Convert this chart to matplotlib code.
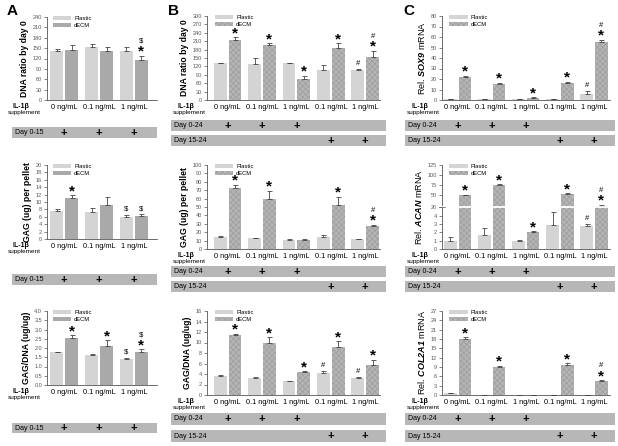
import numpy as np
import matplotlib.pyplot as plt
from matplotlib.patches import Patch

plt.rcParams['font.family'] = ['Liberation Sans', 'DejaVu Sans']
plt.rcParams['mathtext.fontset'] = 'custom'
plt.rcParams['mathtext.rm'] = 'Liberation Sans'
plt.rcParams['mathtext.it'] = 'Liberation Sans:italic'
plt.rcParams['mathtext.bf'] = 'Liberation Sans:bold'
plt.rcParams['mathtext.bfit'] = 'Liberation Sans:italic:bold'
plt.rcParams['hatch.linewidth'] = 0.35

W, H = 618, 446

# --- data -------------------------------------------------------------
doses_a = ['0 ng/mL', '0.1 ng/mL', '1 ng/mL']
doses_bc = ['0 ng/mL', '0.1 ng/mL', '1 ng/mL', '0.1 ng/mL', '1 ng/mL']
day_0_15 = [1, 1, 1]
day_0_24 = [1, 1, 1, 0, 0]
day_15_24 = [0, 0, 0, 1, 1]

# panel A
dna_a_plastic = [142, 153, 141]
dna_a_plastic_err = [5, 8, 11]
dna_a_decm = [144, 141, 115]
dna_a_decm_err = [14, 13, 12]
dna_a_plastic_marks = ['', '', '']
dna_a_decm_marks = ['', '', '$*']

gag_a_plastic = [7.5, 7.3, 6.0]
gag_a_plastic_err = [0.6, 1.2, 0.5]
gag_a_decm = [11.0, 9.1, 6.2]
gag_a_decm_err = [0.8, 2.2, 0.5]
gag_a_plastic_marks = ['', '', '$']
gag_a_decm_marks = ['*', '', '$']

ratio_a_plastic = [1.78, 1.60, 1.38]
ratio_a_plastic_err = [0.02, 0.1, 0.1]
ratio_a_decm = [2.53, 2.13, 1.81]
ratio_a_decm_err = [0.16, 0.28, 0.11]
ratio_a_plastic_marks = ['', '', '$']
ratio_a_decm_marks = ['*', '*', '$*']

# panel B
dna_b_plastic = [131, 129, 131, 106, 108]
dna_b_plastic_err = [1, 20, 2, 19, 4]
dna_b_decm = [213, 195, 76, 184, 152]
dna_b_decm_err = [11, 7, 10, 18, 23]
dna_b_plastic_marks = ['', '', '', '', '#']
dna_b_decm_marks = ['*', '*', '*', '*', '#*']

gag_b_plastic = [14.7, 12.7, 11.0, 13.9, 11.5]
gag_b_plastic_err = [0.8, 0.4, 0.9, 2.8, 0.4]
gag_b_decm = [73, 59.5, 11.0, 52, 27.8]
gag_b_decm_err = [3, 9.5, 0.9, 10, 0.8]
gag_b_plastic_marks = ['', '', '', '', '']
gag_b_decm_marks = ['*', '*', '', '*', '#*']

ratio_b_plastic = [3.7, 3.2, 2.6, 4.25, 3.3]
ratio_b_plastic_err = [0.1, 0.3, 0.1, 0.25, 0.1]
ratio_b_decm = [11.4, 10.0, 4.3, 9.1, 5.7]
ratio_b_decm_err = [0.2, 1.0, 0.2, 1.1, 1.0]
ratio_b_plastic_marks = ['', '', '', '#', '#']
ratio_b_decm_marks = ['*', '*', '*', '*', '*']

# panel C
sox9_plastic = [1.0, 1.0, 0.5, 1.0, 6.0]
sox9_plastic_err = [0.2, 0.2, 0.1, 0.2, 2.9]
sox9_decm = [21.6, 15.2, 2.2, 15.9, 55.2]
sox9_decm_err = [1.3, 1.0, 0.3, 1.1, 1.8]
sox9_plastic_marks = ['', '', '', '', '#']
sox9_decm_marks = ['*', '*', '*', '*', '#*']

acan_plastic = [1.0, 1.7, 0.95, 2.85, 2.7]
acan_plastic_err = [0.4, 0.8, 0.15, 1.65, 0.3]
acan_decm = [50, 75, 2.0, 54, 24]
acan_decm_err = [1.5, 2, 0.1, 1, 2]
acan_plastic_marks = ['', '', '', '', '#']
acan_decm_marks = ['*', '*', '*', '*', '#*']

col2a1_plastic = [0.5, 0.1, 0.05, 0.1, 0.05]
col2a1_plastic_err = [0.15, 0.05, 0.0, 0.05, 0.0]
col2a1_decm = [17.9, 9.1, 0.05, 9.5, 4.5]
col2a1_decm_err = [0.6, 0.2, 0.0, 0.7, 0.2]
col2a1_plastic_marks = ['', '', '', '', '']
col2a1_decm_marks = ['*', '*', '', '*', '#*']

# --- layout (pixels) --------------------------------------------------
C_PLASTIC = '#d4d4d4'
C_DECM = '#a9a9a9'
C_DECM_H = '#b4b4b4'
C_HATCH = '#969696'
C_BOX = '#b7b7b7'
C_AX = '#555555'

fig = plt.figure(figsize=(W / 100, H / 100), dpi=100)


def rect(x0, y0, x1, y1):
    return [x0 / W, 1 - y1 / H, (x1 - x0) / W, (y1 - y0) / H]


def put_marks(ax, x, top, code):
    dy = 1.5
    if '*' in code:
        ax.annotate('*', (x, top), xytext=(0, dy - 3.5), textcoords='offset points',
                    ha='center', va='bottom', fontsize=11, fontweight='bold')
        dy += 6.5
    sym = code.replace('*', '')
    if sym:
        s = r'\$' if sym == '$' else sym
        ax.annotate(s, (x, top), xytext=(0, dy), textcoords='offset points',
                    ha='center', va='bottom', fontsize=5.5)


def bar_panel(px, ylab, yticks, ylim, xlim, doses, plastic, p_err, decm, d_err,
              p_marks, d_marks, hatched, il_x, fmt=None, scale=None):
    ax = fig.add_axes(rect(*px))
    if scale is not None:
        ax.set_yscale('function', functions=scale)
    x = np.arange(len(doses))
    off, w = 0.215, 0.37
    ax.bar(x - off, plastic, w, color=C_PLASTIC, linewidth=0, zorder=2)
    ax.errorbar(x - off, plastic, yerr=[np.zeros(len(x)), p_err], fmt='none',
                ecolor='#444444', elinewidth=0.6, capsize=1.8, capthick=0.6, zorder=3)
    if hatched:
        ax.bar(x + off, decm, w, color=C_DECM_H, edgecolor=C_HATCH, linewidth=0,
               hatch='xxxxxx', zorder=2)
    else:
        ax.bar(x + off, decm, w, color=C_DECM, linewidth=0, zorder=2)
    ax.errorbar(x + off, decm, yerr=[np.zeros(len(x)), d_err], fmt='none',
                ecolor='#444444', elinewidth=0.6, capsize=1.8, capthick=0.6, zorder=3)
    for i in range(len(x)):
        put_marks(ax, x[i] - off, plastic[i] + p_err[i], p_marks[i])
        put_marks(ax, x[i] + off, decm[i] + d_err[i], d_marks[i])
    ax.set_xlim(*xlim)
    ax.set_ylim(*ylim)
    ax.set_yticks(yticks)
    if fmt:
        ax.set_yticklabels([fmt.format(t) for t in yticks])
    ax.set_xticks(x)
    ax.set_xticklabels(doses, fontsize=5.3)
    ax.tick_params(axis='x', length=0, pad=3)
    ax.tick_params(axis='y', labelsize=4, length=2, width=0.5, pad=1.5, colors=C_AX)
    for s in ['top', 'right']:
        ax.spines[s].set_visible(False)
    for s in ['left', 'bottom']:
        ax.spines[s].set_linewidth(0.6)
        ax.spines[s].set_color(C_AX)
    if isinstance(ylab, tuple):
        ax.set_ylabel(ylab[0], fontsize=6.5, labelpad=2.5)
    else:
        ax.set_ylabel(ylab, fontsize=6.2, fontweight='bold', labelpad=2.5)
    handles = [Patch(facecolor=C_PLASTIC, linewidth=0, label='Plastic'),
               Patch(facecolor=C_DECM_H if hatched else C_DECM, edgecolor=C_HATCH,
                     linewidth=0, hatch='xxxxxx' if hatched else None, label='dECM')]
    ax.legend(handles=handles, loc='upper left', bbox_to_anchor=(0.03, 1.04),
              frameon=False, fontsize=4.2, handlelength=3.2, handleheight=0.7,
              labelspacing=0.25, borderaxespad=0, handletextpad=0.5)
    fig.text(il_x / W, 1 - (px[3] + 3) / H, 'IL-1β', ha='center', va='top',
             fontsize=5, fontweight='bold')
    fig.text((il_x + 3) / W, 1 - (px[3] + 10) / H, 'supplement', ha='center',
             va='top', fontsize=4.6)
    return ax


def day_box(ax, xl, xr, y0, y1, label, flags):
    l, r = ax.get_xlim()
    pos = ax.get_position()
    L, R = pos.x0 * W, pos.x1 * W
    k = (r - l) / (R - L)
    bx = fig.add_axes(rect(xl, y0, xr, y1))
    bx.set_xlim(l + (xl - L) * k, l + (xr - L) * k)
    bx.set_ylim(0, 1)
    bx.set_facecolor(C_BOX)
    bx.set_xticks([])
    bx.set_yticks([])
    for s in bx.spines.values():
        s.set_visible(False)
    bx.text(3 / (xr - xl), 0.5, label, transform=bx.transAxes, ha='left',
            va='center', fontsize=5)
    for i, f in enumerate(flags):
        if f:
            bx.text(i, 0.48, '+', ha='center', va='center', fontsize=8,
                    fontweight='bold')


# ACAN broken axis scale: 0-5 linear, break, 20-125 compressed
K = 5.08 / 105


def acan_fwd(v):
    v = np.asarray(v, float)
    return np.where(v <= 5, v, np.where(v < 20, 5.0, 5.0 + (v - 20) * K))


def acan_inv(t):
    t = np.asarray(t, float)
    return np.where(t <= 5, t, 20 + (t - 5) / K)


# columns
A_X, B_X, C_X = (47, 157), (207, 380), (442, 610)
A_ROWS = [(17, 100), (165, 239), (311, 385)]
BC_ROWS = [(16, 100), (165, 249), (311, 395)]
A_XLIM, B_XLIM, C_XLIM = (-0.49, 2.66), (-0.6, 4.43), (-0.46, 4.47)

# Panel A
ax = bar_panel((A_X[0], A_ROWS[0][0], A_X[1], A_ROWS[0][1]), 'DNA ratio by day 0',
               np.arange(0, 241, 30), (0, 240), A_XLIM, doses_a,
               dna_a_plastic, dna_a_plastic_err, dna_a_decm, dna_a_decm_err,
               dna_a_plastic_marks, dna_a_decm_marks, False, 21)
day_box(ax, 12, 157, 127, 138, 'Day 0-15', day_0_15)
ax = bar_panel((A_X[0], A_ROWS[1][0], A_X[1], A_ROWS[1][1]), 'GAG (ug) per pellet',
               np.arange(0, 21, 2), (0, 20), A_XLIM, doses_a,
               gag_a_plastic, gag_a_plastic_err, gag_a_decm, gag_a_decm_err,
               gag_a_plastic_marks, gag_a_decm_marks, False, 21)
day_box(ax, 12, 157, 274, 285, 'Day 0-15', day_0_15)
ax = bar_panel((A_X[0], A_ROWS[2][0], A_X[1], A_ROWS[2][1]), 'GAG/DNA (ug/ug)',
               np.arange(0, 4.01, 0.5), (0, 4), A_XLIM, doses_a,
               ratio_a_plastic, ratio_a_plastic_err, ratio_a_decm, ratio_a_decm_err,
               ratio_a_plastic_marks, ratio_a_decm_marks, False, 21, fmt='{:.1f}')
day_box(ax, 12, 157, 423, 433, 'Day 0-15', day_0_15)

# Panel B
boxes_bc = [[(120, 131), (135, 146)], [(266, 277), (281, 292)], [(413, 425), (430, 442)]]
ax = bar_panel((B_X[0], BC_ROWS[0][0], B_X[1], BC_ROWS[0][1]), 'DNA ratio by day 0',
               np.arange(0, 301, 30), (0, 300), B_XLIM, doses_bc,
               dna_b_plastic, dna_b_plastic_err, dna_b_decm, dna_b_decm_err,
               dna_b_plastic_marks, dna_b_decm_marks, True, 186)
day_box(ax, 171, 386, *boxes_bc[0][0], 'Day 0-24', day_0_24)
day_box(ax, 171, 386, *boxes_bc[0][1], 'Day 15-24', day_15_24)
ax = bar_panel((B_X[0], BC_ROWS[1][0], B_X[1], BC_ROWS[1][1]), 'GAG (ug) per pellet',
               np.arange(0, 101, 10), (0, 100), B_XLIM, doses_bc,
               gag_b_plastic, gag_b_plastic_err, gag_b_decm, gag_b_decm_err,
               gag_b_plastic_marks, gag_b_decm_marks, True, 186)
day_box(ax, 171, 386, *boxes_bc[1][0], 'Day 0-24', day_0_24)
day_box(ax, 171, 386, *boxes_bc[1][1], 'Day 15-24', day_15_24)
ax = bar_panel((B_X[0], BC_ROWS[2][0], B_X[1], BC_ROWS[2][1]), 'GAG/DNA (ug/ug)',
               np.arange(0, 17, 2), (0, 16), B_XLIM, doses_bc,
               ratio_b_plastic, ratio_b_plastic_err, ratio_b_decm, ratio_b_decm_err,
               ratio_b_plastic_marks, ratio_b_decm_marks, True, 186)
day_box(ax, 171, 386, *boxes_bc[2][0], 'Day 0-24', day_0_24)
day_box(ax, 171, 386, *boxes_bc[2][1], 'Day 15-24', day_15_24)

# Panel C
ax = bar_panel((C_X[0], BC_ROWS[0][0], C_X[1], BC_ROWS[0][1]),
               (r'Rel. $\mathbfit{SOX9}$ mRNA',),
               np.arange(0, 81, 10), (0, 80), C_XLIM, doses_bc,
               sox9_plastic, sox9_plastic_err, sox9_decm, sox9_decm_err,
               sox9_plastic_marks, sox9_decm_marks, True, 420)
day_box(ax, 405, 615, *boxes_bc[0][0], 'Day 0-24', day_0_24)
day_box(ax, 405, 615, *boxes_bc[0][1], 'Day 15-24', day_15_24)
ax = bar_panel((C_X[0], BC_ROWS[1][0], C_X[1], BC_ROWS[1][1]),
               (r'Rel. $\mathbfit{ACAN}$ mRNA',),
               [0, 1, 2, 3, 4, 20, 50, 75, 100, 125], (0, 125), C_XLIM, doses_bc,
               acan_plastic, acan_plastic_err, acan_decm, acan_decm_err,
               acan_plastic_marks, acan_decm_marks, True, 420,
               scale=(acan_fwd, acan_inv))
ax.axhline(20, color='white', lw=1.3, zorder=4)
ax.axhline(20, xmin=-0.02, xmax=0.02, color=C_AX, lw=0.5, zorder=5, clip_on=False)
day_box(ax, 405, 615, *boxes_bc[1][0], 'Day 0-24', day_0_24)
day_box(ax, 405, 615, *boxes_bc[1][1], 'Day 15-24', day_15_24)
ax = bar_panel((C_X[0], BC_ROWS[2][0], C_X[1], BC_ROWS[2][1]),
               (r'Rel. $\mathbfit{COL2A1}$ mRNA',),
               np.arange(0, 28, 3), (0, 27), C_XLIM, doses_bc,
               col2a1_plastic, col2a1_plastic_err, col2a1_decm, col2a1_decm_err,
               col2a1_plastic_marks, col2a1_decm_marks, True, 420)
day_box(ax, 405, 615, *boxes_bc[2][0], 'Day 0-24', day_0_24)
day_box(ax, 405, 615, *boxes_bc[2][1], 'Day 15-24', day_15_24)

# panel letters
for lx, lab in [(7, 'A'), (168, 'B'), (403, 'C')]:
    fig.text(lx / W, 1 - 4 / H, lab, ha='left', va='top', fontsize=11,
             fontweight='bold')

fig.savefig('out.png', dpi=100)
